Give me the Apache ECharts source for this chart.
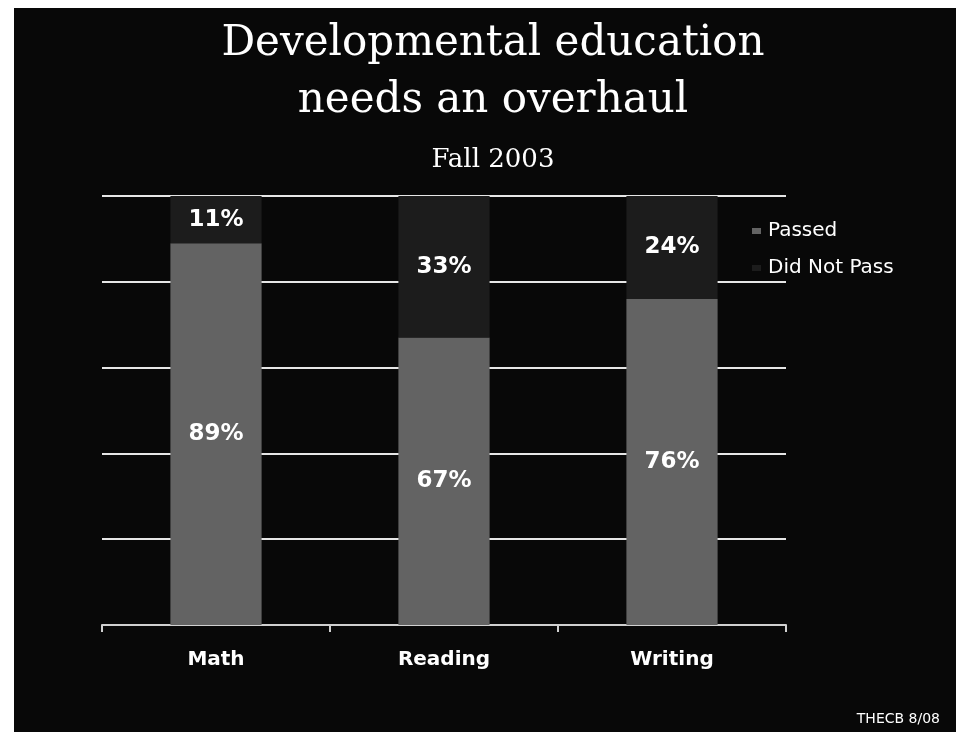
<!DOCTYPE html>
<html>
<head>
<meta charset="utf-8">
<script src="https://cdn.jsdelivr.net/npm/echarts@6/dist/echarts.min.js"></script>
<style>
    html, body {
        margin: 0;
        padding: 0;
        width: 956px;
        height: 732px;
        background: #fff;
        overflow: hidden;
    }
    #chart {
        position: absolute;
        left: 14px;
        top: 8px;
        width: 942px;
        height: 724px;
        background: #080808;
    }
</style>
</head>
<body>
<div id="chart"></div>
<script>
// values
const categories = ['Math', 'Reading', 'Writing']
const passed = [89, 67, 76]
const didNotPass = [11, 33, 24]
const seriesNames = ['Passed', 'Did Not Pass']

const labelStyle = {
    show: true,
    position: 'inside',
    formatter: '{c}%',
    color: '#fff',
    fontFamily: 'DejaVu Sans',
    fontWeight: 'bold',
    fontSize: 23
}

const chart = echarts.init(document.getElementById('chart'))

const option = {
    backgroundColor: '#080808',
    title: {
        text: 'Developmental education\nneeds an overhaul',
        subtext: 'Fall 2003',
        left: 474,
        top: 3,
        textAlign: 'center',
        itemGap: 15,
        textStyle: {
            color: '#fff',
            fontFamily: 'DejaVu Serif',
            fontWeight: 'normal',
            fontSize: 42,
            lineHeight: 57
        },
        subtextStyle: {
            color: '#fff',
            fontFamily: 'DejaVu Serif',
            fontSize: 26,
            lineHeight: 30
        }
    },
    legend: {
        orient: 'vertical',
        left: 733,
        top: 208,
        itemGap: 17,
        itemWidth: 9,
        itemHeight: 6,
        icon: 'rect',
        textStyle: {
            color: '#fff',
            fontFamily: 'DejaVu Sans',
            fontSize: 20,
            padding: [0, 0, 0, 2]
        },
        data: seriesNames
    },
    grid: {
        left: 88,
        right: 170,
        top: 188,
        bottom: 107,
        containLabel: false
    },
    xAxis: {
        type: 'category',
        data: categories,
        axisLine: { lineStyle: { color: '#d0d0d0', width: 2 } },
        axisTick: { show: true, length: 7, lineStyle: { color: '#d0d0d0', width: 2 } },
        axisLabel: {
            color: '#fff',
            fontFamily: 'DejaVu Sans',
            fontWeight: 'bold',
            fontSize: 20,
            margin: 25
        }
    },
    yAxis: {
        type: 'value',
        min: 0,
        max: 100,
        interval: 20,
        axisLabel: { show: false },
        axisLine: { show: false },
        axisTick: { show: false },
        splitLine: { lineStyle: { color: '#e6e6e6', width: 2 } }
    },
    series: [
        {
            name: seriesNames[0],
            type: 'bar',
            stack: 'total',
            barWidth: '40%',
            data: passed,
            itemStyle: { color: '#636363' },
            label: labelStyle
        },
        {
            name: seriesNames[1],
            type: 'bar',
            stack: 'total',
            barWidth: '40%',
            data: didNotPass,
            itemStyle: { color: '#1c1c1c' },
            label: labelStyle
        }
    ],
    graphic: [{
        type: 'text',
        right: 16,
        bottom: 6,
        style: {
            text: 'THECB 8/08',
            fill: '#fff',
            font: '14px "DejaVu Sans"'
        }
    }]
}

chart.setOption(option)
</script>
</body>
</html>
